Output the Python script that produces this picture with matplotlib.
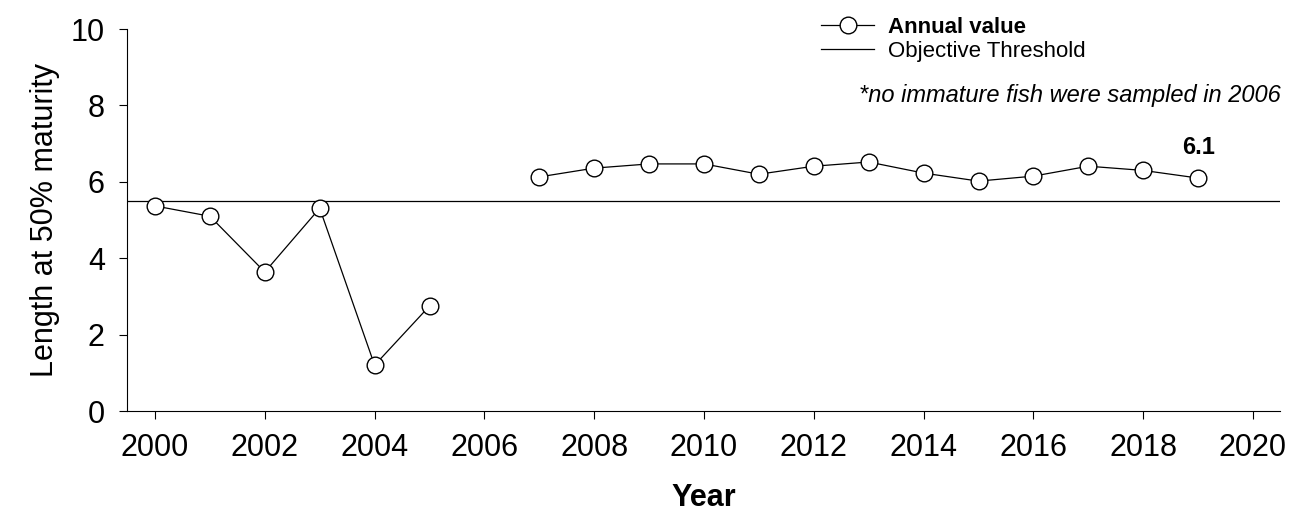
import matplotlib
matplotlib.use('Agg')
import matplotlib.pyplot as plt
import numpy as np

plt.rcParams['font.family'] = ['Liberation Sans', 'DejaVu Sans']

years = [2000, 2001, 2002, 2003, 2004, 2005, 2006, 2007, 2008, 2009, 2010,
         2011, 2012, 2013, 2014, 2015, 2016, 2017, 2018, 2019]
values = [5.37, 5.10, 3.64, 5.31, 1.20, 2.75, np.nan, 6.13, 6.36, 6.47, 6.47,
          6.20, 6.41, 6.52, 6.23, 6.02, 6.15, 6.41, 6.30, 6.10]
threshold = 5.5

fig = plt.figure(figsize=(12.96, 5.29), dpi=100)
ax = fig.add_axes([0.098, 0.223, 0.890, 0.722])

ax.axhline(threshold, color='black', lw=0.9, label='Objective Threshold')
ax.plot(years, values, color='black', lw=0.9, marker='o', ms=12,
        mfc='white', mec='black', mew=1.0, label='Annual value', zorder=3)

ax.annotate(f'{values[-1]:.1f}', (years[-1], values[-1]), xytext=(0, 14),
            textcoords='offset points', ha='center', va='bottom',
            fontsize=17, fontweight='bold')

ax.set_xlim(1999.49, 2020.5)
ax.set_ylim(0, 10)
ax.set_xticks(range(2000, 2021, 2))
ax.set_yticks(range(0, 11, 2))
ax.tick_params(labelsize=22, length=6, pad=10)
for s in ['top', 'right']:
    ax.spines[s].set_visible(False)
ax.set_xlabel('Year', fontsize=22, fontweight='bold', labelpad=14)
ax.set_ylabel('Length at 50% maturity', fontsize=22, labelpad=8)

leg = ax.legend(handles=ax.get_lines()[::-1], loc='upper right',
                bbox_to_anchor=(0.848, 1.085), frameon=False, fontsize=16,
                handlelength=2.4, labelspacing=0.15, handletextpad=0.6)
leg.get_texts()[0].set_fontweight('bold')

ax.text(1.0, 0.825, '*no immature fish were sampled in 2006', transform=ax.transAxes,
        ha='right', va='center', fontsize=17, style='italic')

fig.savefig('out.png', dpi=100)
